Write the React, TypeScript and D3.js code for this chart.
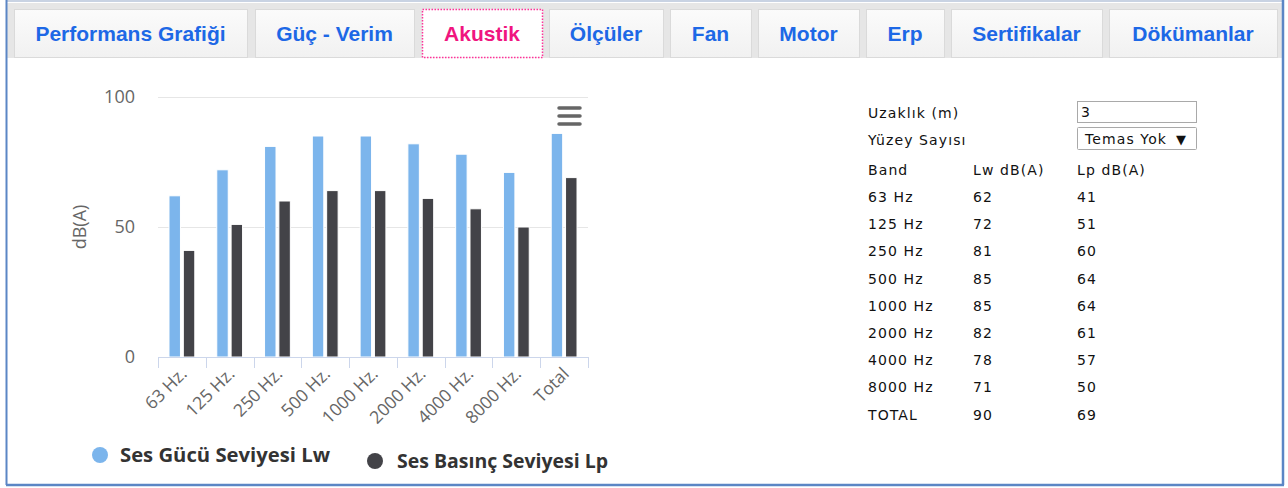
import React from "react";
import * as d3 from "d3";

const tabs = ["Performans Grafiği", "Güç - Verim", "Akustik", "Ölçüler", "Fan", "Motor", "Erp", "Sertifikalar", "Dökümanlar"];
const tabEdges = [14, 255, 422, 549, 670, 758, 866, 951, 1109];
const tabEnds = [247, 414, 542, 663, 751, 859, 944, 1102, 1277];
const activeTab = "Akustik";

const categories = ["63 Hz.", "125 Hz.", "250 Hz.", "500 Hz.", "1000 Hz.", "2000 Hz.", "4000 Hz.", "8000 Hz.", "Total"];
const lwValues = [62, 72, 81, 85, 85, 82, 78, 71, 86];
const lpValues = [41, 51, 60, 64, 64, 61, 57, 50, 69];
const yTicks = [0, 50, 100];
const seriesNames = ["Ses Gücü Seviyesi Lw", "Ses Basınç Seviyesi Lp"];
const seriesColors = ["#7cb5ec", "#434348"];

const tableBands = ["63 Hz", "125 Hz", "250 Hz", "500 Hz", "1000 Hz", "2000 Hz", "4000 Hz", "8000 Hz", "TOTAL"];
const tableLw = [62, 72, 81, 85, 85, 82, 78, 71, 90];
const tableLp = [41, 51, 60, 64, 64, 61, 57, 50, 69];
const tableHeaders = ["Band", "Lw dB(A)", "Lp dB(A)"];
const distanceValue = "3";
const surfaceValue = "Temas Yok";

export default function App() {
  const W = 1288, H = 488;
  const plotL = 158, plotR = 588, plotT = 97, plotB = 357;
  const x = d3.scaleBand<string>().domain(categories).range([plotL, plotR]).paddingInner(0).paddingOuter(0);
  const y = d3.scaleLinear().domain([0, 100]).range([plotB, plotT]);
  const bw = x.bandwidth();
  const inner = d3.scaleBand<number>().domain([0, 1]).range([bw * 0.2, bw * 0.8]).paddingInner(0.2).paddingOuter(0.1);
  const chartFont = "'Open Sans', 'DejaVu Sans', sans-serif";
  const tableFont = "'DejaVu Sans', Verdana, sans-serif";
  const rowY = (i: number) => 197 + i * 27.2;

  return (
    <svg width={W} height={H} style={{ position: "absolute", left: 0, top: 0, background: "#fff" }}>
      <defs>
        <linearGradient id="tabg" x1="0" y1="0" x2="0" y2="1">
          <stop offset="0" stopColor="#fbfbfb" />
          <stop offset="1" stopColor="#f1f1f1" />
        </linearGradient>
      </defs>
      {/* outer frame */}
      <rect x={0} y={0} width={W} height={H} fill="#fff" />
      <rect x={7} y={3} width={1275} height={55} fill="#e6e6e6" />
      <line x1={6} y1={1} x2={1282} y2={1} stroke="#c9d3e3" strokeWidth={2} />
      <line x1={6.5} y1={0} x2={6.5} y2={485} stroke="#5b86c5" strokeWidth={2} />
      <line x1={1283} y1={0} x2={1283} y2={485} stroke="#5b86c5" strokeWidth={2.5} />
      <line x1={6} y1={485} x2={1284} y2={485} stroke="#5b86c5" strokeWidth={2.5} />

      {/* tabs */}
      {tabs.map((t, i) => {
        const active = t === activeTab;
        const x0 = tabEdges[i], x1 = tabEnds[i];
        return (
          <g key={t}>
            <rect x={x0 + 0.5} y={9.5} width={x1 - x0} height={48} fill={active ? "#fff" : "url(#tabg)"}
              stroke={active ? "#ff3399" : "#dadada"} strokeWidth={active ? 1.5 : 1} strokeDasharray={active ? "1.5 1.5" : undefined} />
            <text x={(x0 + x1) / 2} y={41} textAnchor="middle" fontFamily="'Liberation Sans', Arial, sans-serif"
              fontWeight="bold" fontSize={21} fill={active ? "#f0157f" : "#1d68e6"}>{t}</text>
          </g>
        );
      })}

      {/* gridlines */}
      {yTicks.filter(t => t > 0).map(t => (
        <line key={t} x1={plotL} x2={plotR} y1={y(t) + 0.5} y2={y(t) + 0.5} stroke="#e6e6e6" strokeWidth={1} />
      ))}
      {yTicks.map(t => (
        <text key={"yl" + t} x={135} y={y(t) + 6} textAnchor="end" fontFamily={chartFont} fontSize={18} fill="#666">{t}</text>
      ))}
      <text transform={`translate(86,${(plotT + plotB) / 2}) rotate(-90)`} textAnchor="middle" fontFamily={chartFont} fontSize={18} fill="#666">dB(A)</text>

      {/* bars */}
      {categories.map((c, i) => (
        <g key={c}>
          {[lwValues[i], lpValues[i]].map((v, s) => (
            <rect key={s} x={(x(c) as number) + (inner(s) as number)}
              y={y(v)} width={inner.bandwidth()} height={plotB - y(v)} fill={seriesColors[s]} stroke="#fff" strokeWidth={1} />
          ))}
        </g>
      ))}

      {/* x axis */}
      <line x1={plotL} x2={plotR} y1={plotB + 0.5} y2={plotB + 0.5} stroke="#ccd6eb" strokeWidth={1} />
      {[...categories.map(c => x(c) as number), plotR].map((tx, i) => (
        <line key={"t" + i} x1={Math.round(tx) + 0.5} x2={Math.round(tx) + 0.5} y1={plotB} y2={plotB + 11} stroke="#ccd6eb" strokeWidth={1} />
      ))}
      {categories.map(c => {
        const cx = (x(c) as number) + bw / 2;
        return (
          <text key={"xl" + c} transform={`translate(${cx + 6},${plotB + 18}) rotate(-45)`} textAnchor="end"
            fontFamily={chartFont} fontSize={17.5} fill="#666">{c}</text>
        );
      })}

      {/* hamburger */}
      {[0, 1, 2].map(k => (
        <line key={"h" + k} x1={559} x2={580} y1={108 + k * 8} y2={108 + k * 8} stroke="#666" strokeWidth={3.5} strokeLinecap="round" />
      ))}

      {/* legend */}
      <circle cx={100} cy={455} r={8} fill={seriesColors[0]} />
      <text x={120} y={462} fontFamily={chartFont} fontWeight="bold" fontSize={19} fill="#333"
        textLength={210} lengthAdjust="spacingAndGlyphs">{seriesNames[0]}</text>
      <circle cx={375} cy={461} r={8} fill={seriesColors[1]} />
      <text x={397} y={468} fontFamily={chartFont} fontWeight="bold" fontSize={19} fill="#333"
        textLength={211} lengthAdjust="spacingAndGlyphs">{seriesNames[1]}</text>

      {/* right table */}
      <g fontFamily={tableFont} fontSize={14} fill="#111" letterSpacing={1.1}>
        <text x={868} y={118}>Uzaklık (m)</text>
        <text x={868} y={145}>Yüzey Sayısı</text>
        <rect x={1077.5} y={101.5} width={119} height={21} fill="#fff" stroke="#a9a9a9" />
        <text x={1081} y={117}>{distanceValue}</text>
        <rect x={1077.5} y={127.5} width={119} height={22} fill="#fff" stroke="#a9a9a9" rx={1} />
        <text x={1085} y={144}>{surfaceValue}</text>
        <text x={1176} y={144} fontSize={13} letterSpacing={0}>▼</text>
        {tableHeaders.map((h, j) => (
          <text key={h} x={[868, 973, 1077][j]} y={175}>{h}</text>
        ))}
        {tableBands.map((b, i) => (
          <g key={b}>
            <text x={868} y={rowY(i) + 5}>{b}</text>
            <text x={973} y={rowY(i) + 5}>{tableLw[i]}</text>
            <text x={1077} y={rowY(i) + 5}>{tableLp[i]}</text>
          </g>
        ))}
      </g>
    </svg>
  );
}
